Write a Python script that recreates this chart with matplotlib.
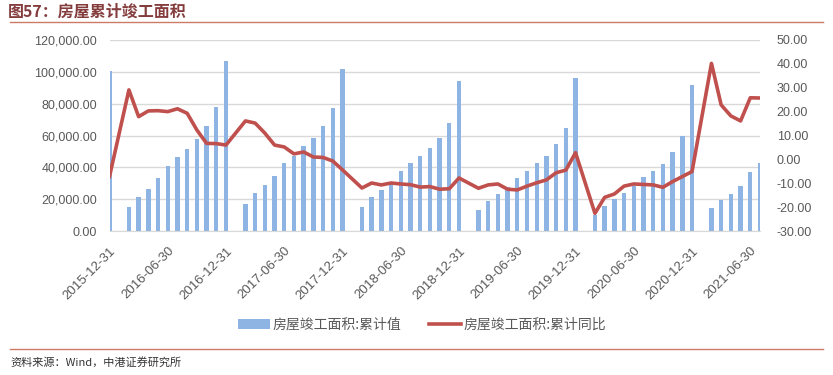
import matplotlib
matplotlib.use("Agg")
import matplotlib.pyplot as plt
import numpy as np
import pandas as pd

plt.rcParams['font.family'] = ['Liberation Sans', 'Noto Sans CJK SC', 'DejaVu Sans']

# month-end categories, 2015-12 .. 2021-07 (January has no data)
dates = pd.date_range('2015-12-31', '2021-07-31', freq='ME')
tick_labels = [d.strftime('%Y-%m-%d') for d in dates]

# 房屋竣工面积:累计值 (万平方米)
area = [
    100500,
    None, 15200, 21200, 26400, 33300, 40600, 46800, 51600, 57800, 65900, 77600, 106500,
    None, 17000, 23900, 28900, 34600, 42700, 47100, 53400, 58400, 66000, 77300, 102000,
    None, 15100, 21400, 25700, 30800, 37700, 42700, 47100, 52100, 58400, 67800, 94000,
    None, 13200, 19000, 23200, 27800, 33100, 37900, 42500, 47300, 54800, 64500, 96400,
    None, 9800, 16000, 19900, 24000, 28500, 33800, 37500, 41800, 49500, 59700, 92000,
    None, 14300, 19600, 23200, 28300, 37200, 42500,
]

# 房屋竣工面积:累计同比 (%)
yoy = [
    -7.2,
    None, 29.1, 17.9, 20.3, 20.4, 20.0, 21.2, 19.3, 12.3, 6.7, 6.6, 6.0,
    None, 16.1, 15.2, 11.0, 6.0, 5.2, 2.3, 3.1, 1.0, 0.8, -0.7, -4.4,
    None, -12.0, -9.9, -10.7, -9.9, -10.3, -10.6, -11.6, -11.4, -12.5, -12.3, -7.8,
    None, -12.1, -10.7, -10.3, -12.5, -12.8, -11.2, -9.8, -8.6, -5.6, -4.5, 2.8,
    None, -22.6, -15.9, -14.5, -11.2, -10.3, -10.5, -10.7, -11.7, -9.3, -7.2, -5.1,
    None, 40.2, 22.8, 18.2, 16.1, 25.8, 25.7,
]

bar_color = '#8DB4E2'
line_color = '#C0504D'
text_gray = '#595959'

x = np.arange(len(dates))
area_arr = np.array([np.nan if v is None else v for v in area], dtype=float)
yoy_arr = np.array([np.nan if v is None else v for v in yoy], dtype=float)

fig = plt.figure(figsize=(8.33, 3.75), dpi=100)
ax = fig.add_axes([109.5 / 833, 1 - 231 / 375, (760 - 109.5) / 833, 191 / 375])
ax2 = ax.twinx()

bars = ax.bar(x, np.nan_to_num(area_arr), width=0.45, color=bar_color, zorder=2,
              label='房屋竣工面积:累计值')
ok = ~np.isnan(yoy_arr)
line, = ax2.plot(x[ok], yoy_arr[ok], color=line_color, lw=2.6, zorder=3,
                 solid_joinstyle='round', label='房屋竣工面积:累计同比')

ax.set_xlim(0, len(dates) - 1)
ax.set_ylim(0, 120000)
ax.set_yticks(np.arange(0, 120001, 20000))
ax.set_yticklabels([f'{v:,.2f}' for v in np.arange(0, 120001, 20000)])
ax2.set_ylim(-30, 50)
ax2.set_yticks(np.arange(-30, 51, 10))
ax2.set_yticklabels([f'{v:.2f}' for v in np.arange(-30, 51, 10)])

ax.set_xticks(x[::6])
ax.set_xticklabels(tick_labels[::6], rotation=45, ha='right', rotation_mode='anchor')

ax.grid(axis='y', color='#D9D9D9', lw=1, zorder=0)
ax.set_axisbelow(True)
for a in (ax, ax2):
    for s in a.spines.values():
        s.set_visible(False)
ax.spines['bottom'].set_visible(True)
ax.spines['bottom'].set_color('#D9D9D9')

ax.tick_params(axis='x', length=0, pad=10, labelsize=9.5, colors=text_gray)
ax.tick_params(axis='y', length=0, pad=9, labelsize=9, colors=text_gray)
ax2.tick_params(axis='y', length=0, pad=12, labelsize=9, colors=text_gray)

fig.legend(handles=[bars, line], loc='center', bbox_to_anchor=(0.507, 1 - 325 / 375),
           ncol=2, frameon=False, labelcolor=text_gray,
           handlelength=2.3, handletextpad=0.2, columnspacing=2.0,
           prop={'family': ['Noto Sans CJK SC', 'DejaVu Sans'], 'size': 10})

fig.text(8 / 833, 1 - 12 / 375, '图57：房屋累计竣工面积', fontsize=11.5, fontweight='bold',
         color='#843C3C', va='center', family=['Noto Sans CJK SC', 'DejaVu Sans'])
fig.add_artist(plt.Line2D([10 / 833, 823 / 833], [1 - 22 / 375] * 2, color='#CD7B68', lw=1))
fig.add_artist(plt.Line2D([10 / 833, 823 / 833], [1 - 349 / 375] * 2, color='#CD7B68', lw=1))
fig.text(10 / 833, 1 - 362 / 375, '资料来源：Wind，中港证券研究所', fontsize=8, style='italic',
         color='#333333', va='center', family=['Noto Sans CJK SC', 'DejaVu Sans'])

fig.savefig('out.png', dpi=100)
